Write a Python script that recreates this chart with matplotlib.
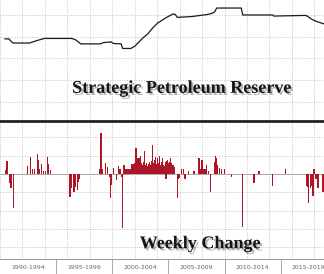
import matplotlib
matplotlib.use("Agg")
import matplotlib.pyplot as plt
import matplotlib.patheffects as pe

# SPR level (million barrels)
spr_year = [1990.44, 1990.79, 1991.14, 1992.63, 1993.33, 1993.95, 1996.40, 1996.76,
            1997.19, 1998.95, 1999.21, 1999.91, 2000.09, 2000.79, 2000.92, 2001.67,
            2002.02, 2002.72, 2003.16, 2003.60, 2004.04, 2004.47, 2004.91, 2005.44,
            2005.62, 2005.79, 2007.11, 2008.42, 2008.86, 2009.12, 2009.30, 2011.49,
            2011.62, 2014.30, 2014.39, 2017.19, 2017.37, 2017.72, 2017.98, 2018.33,
            2018.86]
spr_level = [590, 590, 571, 571, 583, 592, 592, 585,
             567, 567, 573, 576, 569, 567, 546, 546,
             557, 594, 613, 640, 663, 677, 691, 705,
             702, 689, 693, 702, 707, 714, 732, 732,
             700, 700, 695, 698, 695, 682, 675, 668,
             659]

# weekly change (million barrels)
chg_year = [1990.53, 1990.62, 1990.83, 1990.97, 1991.19,
            1992.46, 1992.72, 1992.90, 1993.07, 1993.33, 1993.42, 1993.55, 1993.69,
            1993.86, 1994.04, 1994.21, 1994.30, 1994.48,
            1996.23, 1996.40, 1996.58, 1996.67, 1996.93, 1997.02, 1997.11,
            1998.86, 1998.99, 1999.12, 1999.39, 1999.56, 1999.74, 1999.83, 1999.91,
            2000.09, 2000.35, 2000.53, 2000.70, 2000.83, 2000.92,
            2001.05, 2001.14, 2001.32, 2001.49, 2001.67, 2001.76,
            2001.84, 2001.93, 2002.02, 2002.11, 2002.19, 2002.28, 2002.37, 2002.46,
            2002.54, 2002.63, 2002.72, 2002.81, 2002.89, 2002.98, 2003.07, 2003.16,
            2003.24, 2003.33, 2003.42, 2003.51, 2003.60, 2003.68, 2003.77, 2003.86,
            2003.95, 2004.03, 2004.12, 2004.21, 2004.30, 2004.38, 2004.47, 2004.56,
            2004.65, 2004.74, 2004.78, 2004.83, 2004.91, 2005.00, 2005.09, 2005.18,
            2005.26, 2005.35, 2005.44, 2005.53,
            2005.79, 2005.88, 2005.97, 2006.14, 2006.32, 2006.49, 2006.76, 2007.28,
            2007.72, 2007.81, 2007.89, 2007.98, 2008.07, 2008.25, 2008.42, 2008.60,
            2008.77, 2009.12, 2009.21, 2009.30, 2009.39, 2009.56, 2009.74, 2010.00,
            2010.62, 2011.58, 2012.63, 2013.07, 2014.30, 2015.44,
            2017.28, 2017.37, 2017.46, 2017.63, 2017.72, 2017.89, 2017.98, 2018.16,
            2018.33, 2018.77]
chg_value = [0.4, 1.4, -1.0, -1.5, -3.7,
             0.9, 1.85, 0.6, 0.6, 2.2, 1.5, 0.5, 1.1,
             0.3, 0.3, 1.85, 1.1, 0.4,
             -2.5, -1.5, -2.0, -1.4, -1.8, -0.9, -0.6,
             0.5, 4.5, 0.5, 1.2, 0.8, -0.3, -2.6, -1.2,
             0.7, -0.7, 0.9, 0.5, -0.3, -5.9,
             1.0, 0.5, 0.5, 0.5, 0.5, 1.1,
             1.0, 1.1, 1.2, 2.8, 1.0, 1.8, 1.1, 1.7,
             2.0, 1.2, 1.0, 1.3, 2.5, 1.0, 1.2, 0.9,
             1.1, 1.3, 1.0, 1.4, 3.2, 1.2, 1.5, 1.9,
             1.1, 1.7, 1.2, 2.0, 1.0, 1.3, 1.7, 1.0,
             0.9, 1.3, -0.6, 1.4, 1.5, 1.2, 1.3, 1.7,
             1.2, 1.0, 1.0, 0.8,
             -2.6, -0.5, -0.4, 0.5, 0.5, -0.5, 0.3, 0.3,
             1.7, 0.6, 0.6, 1.5, 0.6, 0.6, 1.0, 0.3,
             -2.0, 1.3, 2.0, 1.8, 1.0, 0.7, 0.5, 0.5,
             -0.3, -5.8, -1.0, 0.3, -1.3, 0.5,
             -1.3, -1.4, -3.2, -1.5, -1.3, -2.4, 0.5, -0.6,
             -1.5, -2.0]

period_labels = ["1990-1994", "1995-1999", "2000-2004", "2005-2009", "2010-2014", "2015-2019"]
period_mid = [1992.5, 1997.5, 2002.5, 2007.5, 2012.5, 2017.5]
period_edges = [1995, 2000, 2005, 2010, 2015]

red = "#ad1529"
grid_kw = dict(color="#c4c4c4", linestyle=(0, (1, 1.5)), linewidth=0.7)
xmin, xmax = 1990.44, 2018.86
even_years = list(range(1990, 2020, 2))
shadow = [pe.SimplePatchShadow(offset=(1.5, -1.5), shadow_rgbFace="#888888", alpha=0.6), pe.Normal()]

fig = plt.figure(figsize=(3.24, 2.74), dpi=100)
ax1 = fig.add_axes([0, 153 / 274, 1, 121 / 274])
ax2 = fig.add_axes([0, 15 / 274, 1, 138 / 274])

# top: SPR level
ax1.plot(spr_year, spr_level, color="#1a1a1a", linewidth=0.9)
ax1.set_xlim(xmin, xmax)
ax1.set_ylim(212, 769)
ax1.set_xticks(even_years)
ax1.set_yticks([300, 400, 500, 600, 700])
ax1.grid(True, **grid_kw)
ax1.tick_params(left=False, bottom=False, labelleft=False, labelbottom=False)
for s in ax1.spines.values():
    s.set_visible(False)
ax1.text(0.56, 0.27, "Strategic Petroleum Reserve", transform=ax1.transAxes,
         ha="center", va="center", fontsize=13, fontweight="bold",
         family="Liberation Serif", color="#151515", path_effects=shadow)

# bottom: weekly change
ax2.bar(chg_year, chg_value, width=0.115, color=red, linewidth=0)
ax2.axhline(0, color="#999999", linewidth=0.6, zorder=0)
ax2.set_xlim(xmin, xmax)
ax2.set_ylim(-9.3, 5.8)
ax2.set_yticks([-8, -6, -4, -2, 2, 4])
ax2.set_xticks(even_years)
ax2.grid(True, **grid_kw)
ax2.set_axisbelow(True)
ax2.tick_params(left=False, labelleft=False, bottom=False, labelbottom=False)
for name in ["left", "right"]:
    ax2.spines[name].set_visible(False)
ax2.spines["top"].set_linewidth(2)
ax2.spines["top"].set_color("#222222")
ax2.spines["bottom"].set_color("#999999")
ax2.spines["bottom"].set_linewidth(0.7)
ax2.text(0.617, 0.11, "Weekly Change", transform=ax2.transAxes,
         ha="center", va="center", fontsize=13, fontweight="bold",
         family="Liberation Serif", color="#151515", path_effects=shadow)

# period labels and separators under the axis
for e in period_edges:
    ax2.plot([e, e], [0, -0.12], transform=ax2.get_xaxis_transform(), clip_on=False,
             color="#aaaaaa", linewidth=0.7)
for m, lab in zip(period_mid, period_labels):
    ax2.text(m, -0.06, lab, transform=ax2.get_xaxis_transform(), ha="center", va="center",
             fontsize=4.5, color="#666666")

fig.savefig("out.png", dpi=100)
